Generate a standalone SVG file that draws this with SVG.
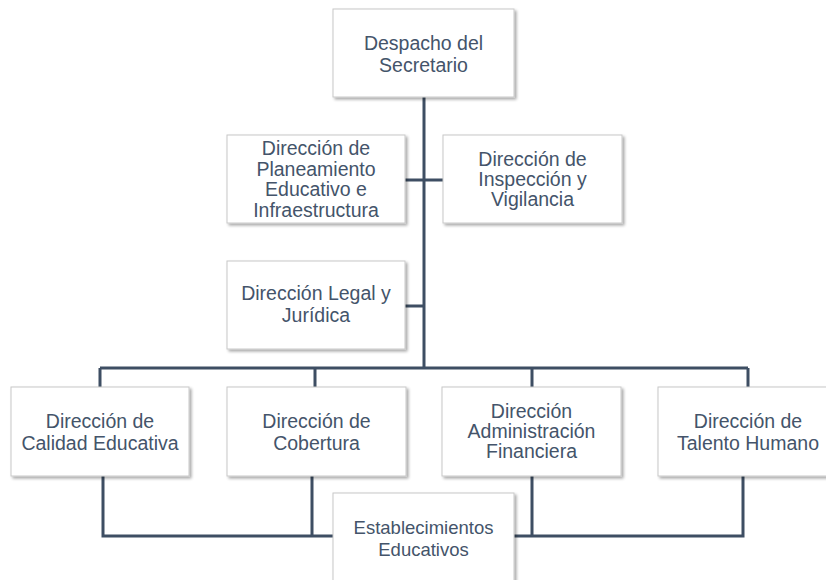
<svg xmlns="http://www.w3.org/2000/svg" width="826" height="580" viewBox="0 0 826 580">
<defs>
<filter id="sh" x="-10%" y="-10%" width="125%" height="130%">
<feGaussianBlur in="SourceAlpha" stdDeviation="1.5"/>
<feOffset dx="1.5" dy="2" result="o"/>
<feComponentTransfer><feFuncA type="linear" slope="0.35"/></feComponentTransfer>
<feMerge><feMergeNode/><feMergeNode in="SourceGraphic"/></feMerge>
</filter>
<style>
.box{fill:#ffffff;stroke:#c8c8c8;stroke-width:1;filter:url(#sh)}
.t{font-family:"Liberation Sans",Arial,sans-serif;font-size:19.5px;fill:#44546a;text-anchor:middle}
.c{fill:none;stroke:#3e4e63;stroke-width:3;stroke-linejoin:miter}
</style>
</defs>
<rect width="826" height="580" fill="#ffffff"/>
<g id="connectors">
<path class="c" d="M424 97V368M405 180H443M405 306H424M100 368H748M100 368V387M315 368V387M532 368V387M748 368V387"/>
<path class="c" d="M103 476V536H743V476M312 476V536M532 476V536"/>
</g>
<g id="n-despacho">
<rect class="box" x="333" y="9" width="181" height="88"/>
<text class="t" x="423.5" y="50">Despacho del</text>
<text class="t" x="423.5" y="72">Secretario</text>
</g>
<g id="n-planeamiento">
<rect class="box" x="227" y="135" width="178" height="88"/>
<text class="t" x="316" y="155">Dirección de</text>
<text class="t" x="316" y="175.5">Planeamiento</text>
<text class="t" x="316" y="196">Educativo e</text>
<text class="t" x="316" y="216.5">Infraestructura</text>
</g>
<g id="n-inspeccion">
<rect class="box" x="443" y="135" width="179" height="88"/>
<text class="t" x="532.5" y="166">Dirección de</text>
<text class="t" x="532.5" y="186">Inspección y</text>
<text class="t" x="532.5" y="206">Vigilancia</text>
</g>
<g id="n-legal">
<rect class="box" x="227" y="261" width="178" height="88"/>
<text class="t" x="316" y="300">Dirección Legal y</text>
<text class="t" x="316" y="322">Jurídica</text>
</g>
<g id="n-calidad">
<rect class="box" x="11" y="387" width="178" height="89"/>
<text class="t" x="100" y="427.5">Dirección de</text>
<text class="t" x="100" y="449.5">Calidad Educativa</text>
</g>
<g id="n-cobertura">
<rect class="box" x="227" y="387" width="179" height="89"/>
<text class="t" x="316.5" y="427.5">Dirección de</text>
<text class="t" x="316.5" y="449.5">Cobertura</text>
</g>
<g id="n-financiera">
<rect class="box" x="442" y="387" width="179" height="89"/>
<text class="t" x="531.5" y="418">Dirección</text>
<text class="t" x="531.5" y="438">Administración</text>
<text class="t" x="531.5" y="458">Financiera</text>
</g>
<g id="n-talento">
<rect class="box" x="658" y="387" width="179" height="89"/>
<text class="t" x="748" y="427.5">Dirección de</text>
<text class="t" x="748" y="449.5">Talento Humano</text>
</g>
<g id="n-establecimientos">
<rect class="box" x="333" y="493" width="181" height="89"/>
<text class="t" x="423.5" y="534" style="font-size:18.5px">Establecimientos</text>
<text class="t" x="423.5" y="556" style="font-size:18.5px">Educativos</text>
</g>
</svg>
